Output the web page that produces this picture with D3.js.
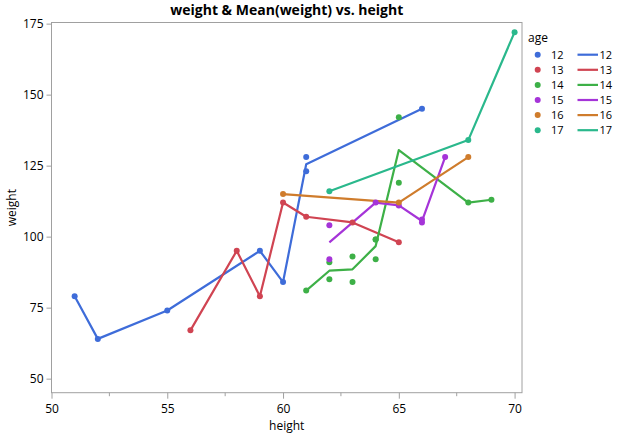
<!DOCTYPE html>
<html><head><meta charset="utf-8">
<script src="https://cdn.jsdelivr.net/npm/d3@7"></script>
<style>body{margin:0;background:#fff;} text{font-family:"Segoe UI","Open Sans","Noto Sans",sans-serif;}</style>
</head><body>
<svg id="c" width="631" height="436"></svg>
<script>
const ages = [12,13,14,15,16,17];
const colors = ["#3E6CD9","#D04452","#3DB047","#A534D8","#CF7C2C","#2AB88C"];
const heights = [59,61,55,66,52,60,61,51, 60,61,56,65,63,58,59, 61,62,65,63,62,63,64,65,64,68,64,69, 62,64,67,65,66,62,66, 65,60,68, 62,68,70];
const weights = [95,123,74,145,64,84,128,79, 112,107,67,98,105,95,79, 81,91,142,84,85,93,99,119,92,112,99,113, 92,112,128,111,105,104,106, 112,115,128, 116,134,172];
const ageOf = [12,12,12,12,12,12,12,12, 13,13,13,13,13,13,13, 14,14,14,14,14,14,14,14,14,14,14,14, 15,15,15,15,15,15,15, 16,16,16, 17,17,17];
const xTicks = [50,55,60,65,70];
const yTicks = [50,75,100,125,150,175];

const rows = heights.map((h,i)=>({h, w:weights[i], age:ageOf[i]}));
const svg = d3.select("#c");
const L=51.5, R=522, T=22.5, B=392.7;
const x = d3.scaleLinear().domain([50,70.32]).range([L,R]);
const y = d3.scaleLinear().domain([45.05,175.4]).range([B,T]);
const col = d3.scaleOrdinal().domain(ages).range(colors);
const grey = "#A0A0A0";

// frame
svg.append("rect").attr("x",L).attr("y",T).attr("width",R-L).attr("height",B-T)
  .attr("fill","none").attr("stroke",grey).attr("stroke-width",1);

// x axis
const xa = svg.append("g").attr("transform",`translate(0,${B})`)
  .call(d3.axisBottom(x).tickValues(xTicks).tickSize(6).tickPadding(6).tickFormat(d3.format("d")));
xa.select(".domain").remove();
xa.selectAll("line").attr("stroke",grey);
xa.selectAll("text").attr("font-size",12).attr("fill","#000");
const minor = [52.5,57.5,62.5,67.5];
svg.append("g").selectAll("line").data(minor).join("line")
  .attr("x1",d=>x(d)).attr("x2",d=>x(d)).attr("y1",B).attr("y2",B+3.5).attr("stroke",grey);

// y axis
const ya = svg.append("g").attr("transform",`translate(${L},0)`)
  .call(d3.axisLeft(y).tickValues(yTicks).tickSize(5).tickPadding(3).tickFormat(d3.format("d")));
ya.select(".domain").remove();
ya.selectAll("line").attr("stroke",grey);
ya.selectAll("text").attr("font-size",12).attr("fill","#000");

// labels
svg.append("text").attr("x",(L+R)/2).attr("y",15).attr("text-anchor","middle")
  .attr("font-size",14).attr("font-weight","bold").text("weight & Mean(weight) vs. height");
svg.append("text").attr("x",(L+R)/2).attr("y",430).attr("text-anchor","middle")
  .attr("font-size",12).text("height");
svg.append("text").attr("transform",`translate(16,${(T+B)/2}) rotate(-90)`).attr("text-anchor","middle")
  .attr("font-size",12).text("weight");

// mean lines
const line = d3.line().x(d=>x(d[0])).y(d=>y(d[1]));
ages.forEach(a=>{
  const g = d3.rollups(rows.filter(r=>r.age===a), v=>d3.mean(v,r=>r.w), r=>r.h).sort((p,q)=>p[0]-q[0]);
  svg.append("path").datum(g).attr("d",line).attr("fill","none")
    .attr("stroke",col(a)).attr("stroke-width",2.2).attr("stroke-linejoin","round");
});
// points
svg.append("g").selectAll("circle").data(rows).join("circle")
  .attr("cx",d=>x(d.h)).attr("cy",d=>y(d.w)).attr("r",3).attr("fill",d=>col(d.age));

// legend
const lg = svg.append("g");
lg.append("text").attr("x",528).attr("y",41.5).attr("font-size",12).text("age");
ages.forEach((a,i)=>{
  const cy = 54.7 + i*15.1;
  lg.append("circle").attr("cx",537.7).attr("cy",cy).attr("r",3).attr("fill",col(a));
  lg.append("text").attr("x",551).attr("y",cy+4).attr("font-size",11).text(a);
  lg.append("line").attr("x1",577.5).attr("x2",598).attr("y1",cy).attr("y2",cy)
    .attr("stroke",col(a)).attr("stroke-width",2.2);
  lg.append("text").attr("x",599.5).attr("y",cy+4).attr("font-size",11).text(a);
});
</script>
</body></html>
